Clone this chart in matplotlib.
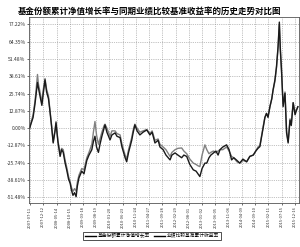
import numpy as np
import pandas as pd
import matplotlib
matplotlib.use('Agg')
import matplotlib.pyplot as plt

plt.rcParams['font.family'] = ['Noto Sans CJK SC', 'DejaVu Sans']

# time in decimal years, values in %
years = [2007.51, 2007.55, 2007.62, 2007.68, 2007.71, 2007.76, 2007.79, 2007.84, 2007.90, 2007.94,
         2008.00, 2008.05, 2008.11, 2008.16, 2008.21, 2008.26, 2008.32, 2008.35, 2008.41, 2008.48,
         2008.53, 2008.58, 2008.64, 2008.69, 2008.75, 2008.80, 2008.84, 2008.89, 2008.94, 2008.99,
         2009.03, 2009.08, 2009.17, 2009.24, 2009.33, 2009.40, 2009.49, 2009.54, 2009.59, 2009.64,
         2009.70, 2009.75, 2009.81, 2009.88, 2009.91, 2009.97, 2010.07, 2010.13, 2010.23, 2010.29,
         2010.39, 2010.45, 2010.55, 2010.60, 2010.66, 2010.76, 2010.80, 2010.86, 2010.93, 2011.02,
         2011.12, 2011.24, 2011.34, 2011.41, 2011.50, 2011.60, 2011.66, 2011.76, 2011.85, 2011.98,
         2012.04, 2012.14, 2012.23, 2012.35, 2012.42, 2012.51, 2012.61, 2012.72, 2012.81, 2012.87,
         2012.93, 2013.00, 2013.09, 2013.15, 2013.22, 2013.28, 2013.36, 2013.44, 2013.51, 2013.57,
         2013.66, 2013.78, 2013.86, 2013.94, 2014.01, 2014.11, 2014.20, 2014.30, 2014.42, 2014.52,
         2014.63, 2014.71, 2014.78, 2014.84, 2014.95, 2015.00, 2015.05, 2015.10, 2015.16, 2015.22,
         2015.26, 2015.32, 2015.37, 2015.42, 2015.46, 2015.49, 2015.53, 2015.58, 2015.64, 2015.69,
         2015.74, 2015.80, 2015.84, 2015.90, 2015.96, 2016.01, 2016.05]

fund = [0, 3, 8, 18, 24, 34, 30, 24, 17, 25,
        36, 27, 22, 12, 1, -11, -2, 4, -10, -21,
        -16, -18, -26, -31, -38, -41, -46, -50, -48, -51,
        -43, -37, -32, -34, -24, -20, -16, -10, -6, -14,
        -18, -12, -6, 0, 2.5, -3, -8.7, -5, -3.5, -6,
        -7, -14, -22, -25, -18, -9, -4, 2.5, -2, -5,
        -3, -1.3, -5, -3, -11, -9, -14, -16, -20, -23.6,
        -20, -18.4, -20, -22, -20, -21, -27, -31, -32, -34,
        -36, -30, -26, -26, -22, -20, -18.5, -17, -20, -16,
        -14, -12.4, -16, -23.6, -22, -24, -26, -23, -25, -21,
        -20, -17, -15, -13.7, 1, 8, 11, 8, 16, 22,
        28.5, 36, 46, 61, 79, 60, 43, 16, 26, -3.5,
        -11, 6, 2, 19, 10, 13.6, 16]

bench = [0, 4, 10, 20, 27, 40, 33, 27, 19, 28,
         37, 29, 24, 13, 2, -10, -1, 5, -9, -19,
         -15, -16, -24, -29, -36, -40, -44, -47, -45, -47,
         -40, -35, -30, -31, -22, -18, -12, -3, 5, -5,
         -12, -8, -3, 2, 3, 0, -6, -2, -2, -4,
         -5, -12, -20, -23, -16, -7, -2, 3, 0, -3,
         -2, -1, -4, -2, -9, -8, -12, -14, -16, -21,
         -18, -16, -15, -14.7, -17, -19, -23, -26, -27, -28,
         -28.6, -20, -12.4, -16, -19, -18, -17, -18, -17, -16,
         -16, -14, -17, -21, -22, -25, -26, -24, -25, -21,
         -20, -17, -14, -13, 2, 8, 11, 9, 16, 22,
         28, 35, 45, 60, 77, 58, 42, 18, 27, -2,
         -10, 7, 3, 19, 12, 14, 16]

tick_dates = ['2007-07-11', '2007-12-12', '2008-05-14', '2008-10-15', '2009-03-18',
              '2009-08-19', '2010-01-20', '2010-06-23', '2010-11-24', '2011-04-27',
              '2011-09-28', '2012-02-29', '2012-08-01', '2013-01-02', '2013-06-05',
              '2013-11-06', '2014-04-09', '2014-09-10', '2015-02-11', '2015-07-15',
              '2015-12-16']

yticks = [77.22, 64.35, 51.48, 38.61, 25.74, 12.87, 0.00, -12.87, -25.74, -38.61, -51.48]

td = pd.to_datetime(tick_dates)
tick_pos = td.year + (td.dayofyear - 1) / 365.25

fig = plt.figure(figsize=(3.0, 2.47), dpi=100)
ax = fig.add_axes([29 / 300, 44 / 247, 269.5 / 300, 186 / 247])

ax.plot(years, bench, color='#808080', linewidth=1.0, label='业绩比较基准累计收益率')
ax.plot(years, fund, color='#1a1a1a', linewidth=1.0, label='基金份额累计净值增长率')

ax.set_xlim(2007.49, 2016.07)
ax.set_ylim(-55.7, 82.8)
ax.set_yticks(yticks)
ax.set_yticklabels(['%.2f%%' % v for v in yticks], fontsize=3.6, color='#333333')
ax.set_xticks(tick_pos)
ax.set_xticklabels(tick_dates, rotation=90, fontsize=2.9, color='#333333')
ax.tick_params(length=1.5, width=0.4, pad=1)
ax.grid(True, linestyle=':', color='#888888', linewidth=0.5)
for s in ax.spines.values():
    s.set_linewidth(0.6)
    s.set_color('#555555')

fig.text(0.5, 1 - 11 / 247, '基金份额累计净值增长率与同期业绩比较基准收益率的历史走势对比图',
         ha='center', va='center', fontsize=6.1, fontweight='bold')

h, l = ax.get_legend_handles_labels()
leg = fig.legend(h[::-1], l[::-1], loc='center', bbox_to_anchor=(152 / 300, 1 - 236 / 247),
                 ncol=2, fontsize=3.4, frameon=True, fancybox=False, edgecolor='black',
                 handlelength=2.3, columnspacing=0.9, borderpad=0.4, handletextpad=0.4)
leg.get_frame().set_linewidth(0.6)
for line in leg.get_lines():
    line.set_color('black')

fig.savefig('out.png', dpi=100)
